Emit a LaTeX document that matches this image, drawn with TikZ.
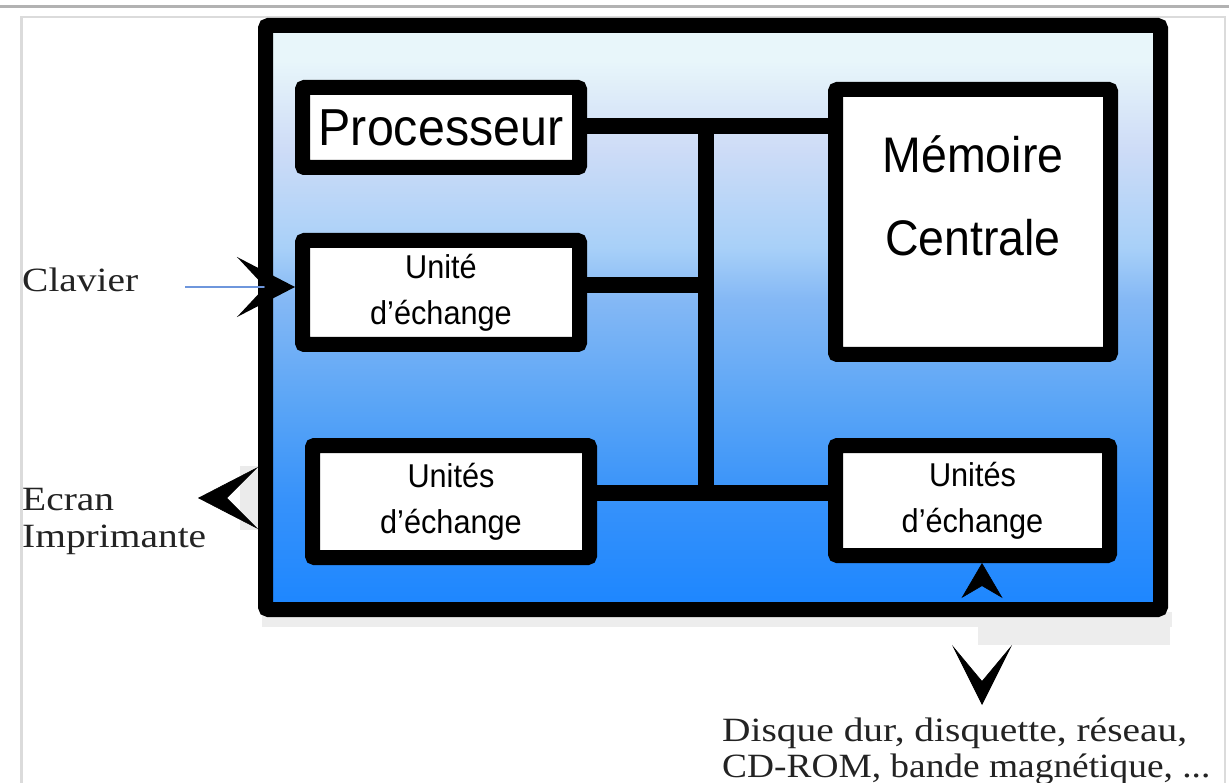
\documentclass[tikz,border=0pt]{standalone}
\usepackage{fontspec}
\setmainfont{Liberation Serif}
\setsansfont{Liberation Sans}
\newfontfamily\labelfont[FakeStretch=1.16]{Liberation Serif}
\newfontfamily\labelfontnarrow[FakeStretch=1.10]{Liberation Serif}
\newfontfamily\boxfont[FakeStretch=0.93]{Liberation Sans}
\usetikzlibrary{arrows.meta,calc}

% vertical blue gradient of the system frame (bottom to top)
\definecolor{grad0}{RGB}{232,246,250}
\definecolor{grad1}{RGB}{206,220,247}
\definecolor{grad2}{RGB}{168,208,248}
\definecolor{grad3}{RGB}{132,184,245}
\definecolor{grad4}{RGB}{92,166,246}
\definecolor{grad5}{RGB}{55,146,250}
\definecolor{grad6}{RGB}{28,134,255}
\definecolor{kbline}{RGB}{110,150,220}
\definecolor{labeltext}{RGB}{35,35,35}
\pgfdeclareverticalshading{sysfill}{100bp}{%
  color(0bp)=(grad6); color(25bp)=(grad6); color(34.5bp)=(grad5);
  color(43bp)=(grad4); color(51.5bp)=(grad3); color(56bp)=(grad2);
  color(64.5bp)=(grad1); color(72bp)=(grad0); color(75bp)=(grad0);
  color(100bp)=(grad0)}

\begin{document}
\begin{tikzpicture}[x=1pt,y=-1pt,
  unitbox/.style={draw=black, fill=white, line width=15pt, rounded corners=2pt,
    inner sep=0pt, align=center, text=black,
    font=\boxfont\fontsize{33}{46}\selectfont},
  boxtext/.style={inner sep=0pt, align=center, text=black},
  bus/.style={line width=16pt, line cap=rect},
  lbl/.style={inner sep=0pt, anchor=base west, text=labeltext,
    font=\labelfont\fontsize{34}{36}\selectfont},
  bigtip/.style={line width=0.6pt, draw=black}
]
\useasboundingbox (0,0) rectangle (1229,783);
\fill[white] (0,0) rectangle (1229,783);

% page rules
\draw[black!30, line width=3pt] (0,7) -- (1229,7);
\draw[black!14, line width=2.5pt] (21.5,783) -- (21.5,17) -- (1225,17) -- (1225,783);

% soft shadows around the frame
\fill[black!7] (262,612) rectangle (1172,627);
\fill[black!7] (978,612) rectangle (1170,645);
\fill[black!8] (240,466) rectangle (262,530);

% system frame
\node[draw=black, line width=15pt, shading=sysfill, rounded corners=3pt,
  minimum width=895pt, minimum height=584pt, inner sep=0pt] (sys) at (713,317.5) {};

% bus coordinates
\coordinate (bt) at (706,126);
\coordinate (bm) at (706,285);
\coordinate (bb) at (706,493);

% bus lines
\draw[bus] (bt) -- (bb);

% functional units
\node[unitbox, minimum width=277pt, minimum height=80pt,
  font=\boxfont\fontsize{52}{52}\selectfont] (proc) at (441,127.5) {Processeur};
\node[unitbox, minimum width=275pt, minimum height=265pt] (mem) at (973,222) {};
\node[boxtext, font=\boxfont\fontsize{50}{83}\selectfont] (memtxt)
  at ([yshift=26pt]mem.center) {Mémoire\\Centrale};
\node[unitbox, minimum width=277pt, minimum height=104pt] (u1) at (441,292.5) {Unité\\d’échange};
\node[unitbox, minimum width=277pt, minimum height=112pt] (u2) at (451,501.5) {Unités\\d’échange};
\node[unitbox, minimum width=274pt, minimum height=110pt] (u3) at (972.5,500.5) {Unités\\d’échange};

\draw[bus] (proc.east |- bt) -- (mem.west |- bt);
\draw[bus] (u1.east |- bm) -- (bm);
\draw[bus] (u2.east |- bb) -- (u3.west |- bb);

% external devices
\node[lbl] (kbtxt) at (22,292) {Clavier};
\node[lbl] (ectxt) at (22,510) {Ecran};
\node[lbl] (prtxt) at (22,547) {Imprimante};
\node[lbl] (disk1) at (722,741) {Disque dur, disquette, réseau,};
\node[lbl, font=\labelfontnarrow\fontsize{34}{36}\selectfont] (disk2) at (722,777)
  {CD-ROM, bande magnétique, ...};

\coordinate (kb) at (185,287);
\coordinate (ec) at (198,498);
\coordinate (io) at (982,0);
\coordinate (dn1) at (982,645);
\coordinate (dn2) at (982,705);

% input from keyboard
\draw[kbline, line width=2pt, -{Stealth[black,length=58pt,width=60pt,inset=28pt]}]
  (kb) -- (u1.west |- kb);
% output to screen / printer (shaft hidden inside the head)
\draw[bigtip, shorten <=35pt, -{Stealth[length=60pt,width=62pt,inset=31pt]}]
  (sys.west |- ec) -- (ec);
% storage exchange
\draw[bigtip, shorten <=34pt, -{Stealth[length=35pt,width=41pt,inset=12pt]}]
  (sys.south -| io) -- (u3.south -| io);
\draw[bigtip, shorten <=39pt, -{Stealth[length=60pt,width=60pt,inset=36pt]}]
  (dn1) -- (dn2);
\end{tikzpicture}
\end{document}
